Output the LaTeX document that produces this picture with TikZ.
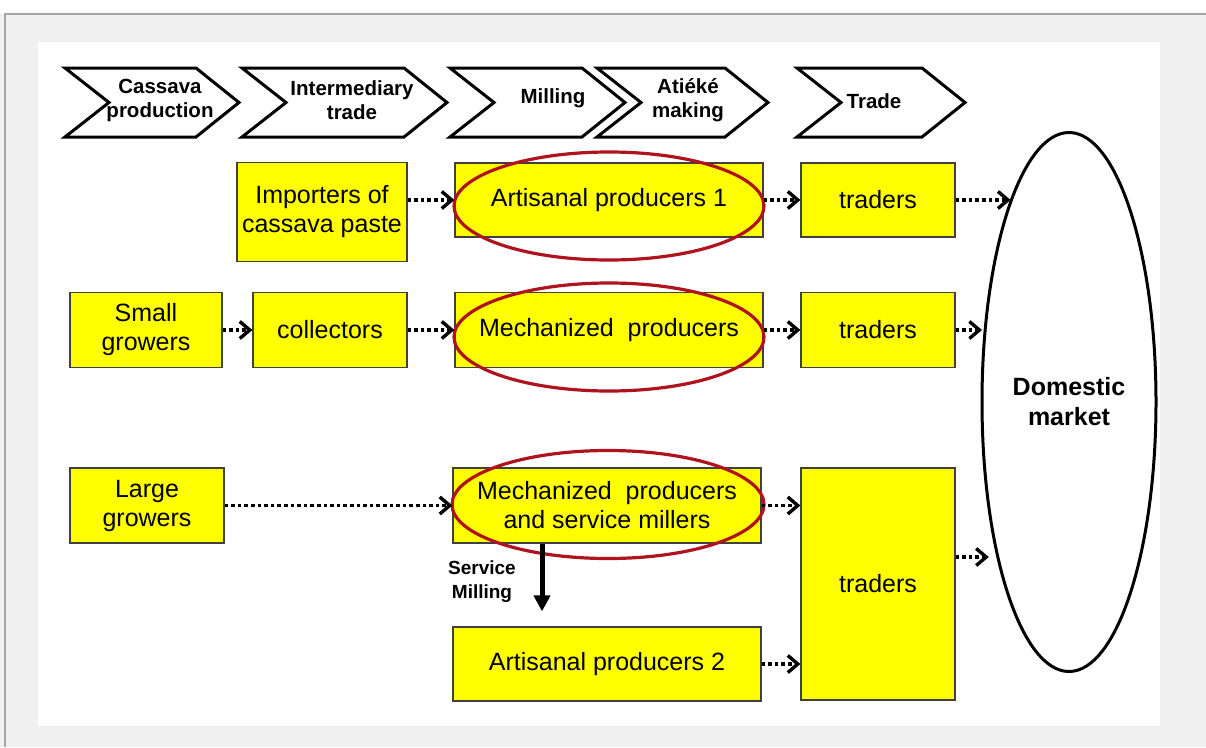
\documentclass[tikz,border=0pt]{standalone}
\usepackage{fontspec}
\setmainfont{Liberation Sans}
\usetikzlibrary{arrows.meta,shapes.geometric}

\definecolor{boxyellow}{RGB}{255,255,0}
\definecolor{ringred}{RGB}{175,20,30}
\definecolor{panelgray}{RGB}{240,240,240}

\tikzset{
  actor/.style={draw=black!75, line width=1.2pt, fill=boxyellow, align=center, inner sep=0pt,
    font=\fontsize{25}{29}\selectfont},
  phase/.style={draw=black, line width=3pt, fill=white, line join=miter},
  phasetext/.style={align=center, inner sep=0pt, font=\bfseries\fontsize{20.5}{24}\selectfont},
  flow/.style={line width=3.6pt, dash pattern=on 3.6pt off 3pt,
    -{Straight Barb[length=10pt,width=17pt,line width=3.4pt]}},
  service/.style={line width=5pt, -{Triangle[length=16pt,width=16pt]}},
  ring/.style={draw=ringred, line width=3.2pt},
  market/.style={ellipse, draw, line width=3pt, fill=white, align=center, inner sep=0pt,
    minimum width=174pt, minimum height=539pt, font=\bfseries\fontsize{25}{30}\selectfont}
}

\begin{document}
\begin{tikzpicture}[x=1pt,y=-1pt]
\useasboundingbox (0,0) rectangle (1206,747);
% background and panel
\fill[panelgray] (0,14) rectangle (1206,747);
\draw[black!35, line width=1.5pt] (5,747) -- (5,14) -- (1206,14);
\fill[white] (38,42) rectangle (1160,726);

% value chain stages
\foreach \l/\r in {65/239,242/447,450/625,597/768,797/965}
  \draw[phase] (\l,68) -- (\r-43,68) -- (\r,102.5) -- (\r-43,137) -- (\l,137) -- (\l+44,102.5) -- cycle;
\node[phasetext] (cassava) at (160,100) {Cassava\\production};
\node[phasetext] (inter) at (352,100) {Intermediary\\trade};
\node[phasetext] (milling) at (553,98) {Milling};
\node[phasetext] (atieke) at (688,100) {Atiéké\\making};
\node[phasetext] (trade) at (874,101) {Trade};

% actors
\node[actor, minimum width=170pt, minimum height=99pt] (importers) at (322,212) {Importers of\\cassava paste};
\node[actor, minimum width=308pt, minimum height=74pt] (art1) at (609,200) {Artisanal producers 1};
\node[actor, minimum width=154pt, minimum height=74pt] (tr1) at (878,200) {traders};
\node[actor, minimum width=152pt, minimum height=75pt] (small) at (146,330) {Small\\growers};
\node[actor, minimum width=154pt, minimum height=75pt] (coll) at (330,330) {collectors};
\node[actor, minimum width=308pt, minimum height=75pt] (mech) at (609,330) {Mechanized\ \ producers};
\node[actor, minimum width=154pt, minimum height=75pt] (tr2) at (878,330) {traders};
\node[actor, minimum width=154pt, minimum height=75pt] (large) at (147,505.5) {Large\\growers};
\node[actor, minimum width=308pt, minimum height=75pt] (mechsm) at (607,505.5) {Mechanized\ \ producers\\and service millers};
\node[actor, minimum width=308pt, minimum height=74pt] (art2) at (607,664) {Artisanal producers 2};
\node[actor, minimum width=154pt, minimum height=232pt] (tr3) at (878,584) {traders};
\node[market] (market) at (1069,402) {Domestic\\market};

% red rings
\draw[ring] ([yshift=-6pt]art1.center) ellipse [x radius=155, y radius=54];
\draw[ring] ([yshift=-7pt]mech.center) ellipse [x radius=155, y radius=54];
\draw[ring] ([xshift=1pt,yshift=1pt]mechsm.center) ellipse [x radius=156, y radius=54];

% flows
\draw[flow] (importers.east |- art1) -- (art1);
\draw[flow] (art1) -- (tr1);
\draw[flow] (tr1.east) -- (tr1.east -| market.106);
\draw[flow] (small) -- (coll);
\draw[flow] (coll) -- (mech);
\draw[flow] (mech) -- (tr2);
\draw[flow] (tr2.east) -- (tr2.east -| market.150);
\draw[flow] (large) -- (mechsm);
\draw[flow] (mechsm.east) -- (mechsm.east -| tr3.west);
\draw[flow] (art2.east) -- (art2.east -| tr3.west);
\draw[flow] ([yshift=27pt]tr3.east) coordinate (t3) -- (t3 -| market.235);

% service milling
\draw[service] ([xshift=-65pt]mechsm.south) -- ([xshift=-65pt,yshift=15pt]art2.north);
\node[phasetext, font=\bfseries\fontsize{19}{24}\selectfont] (servlbl) at (482,582) {Service\\Milling};
\end{tikzpicture}
\end{document}
